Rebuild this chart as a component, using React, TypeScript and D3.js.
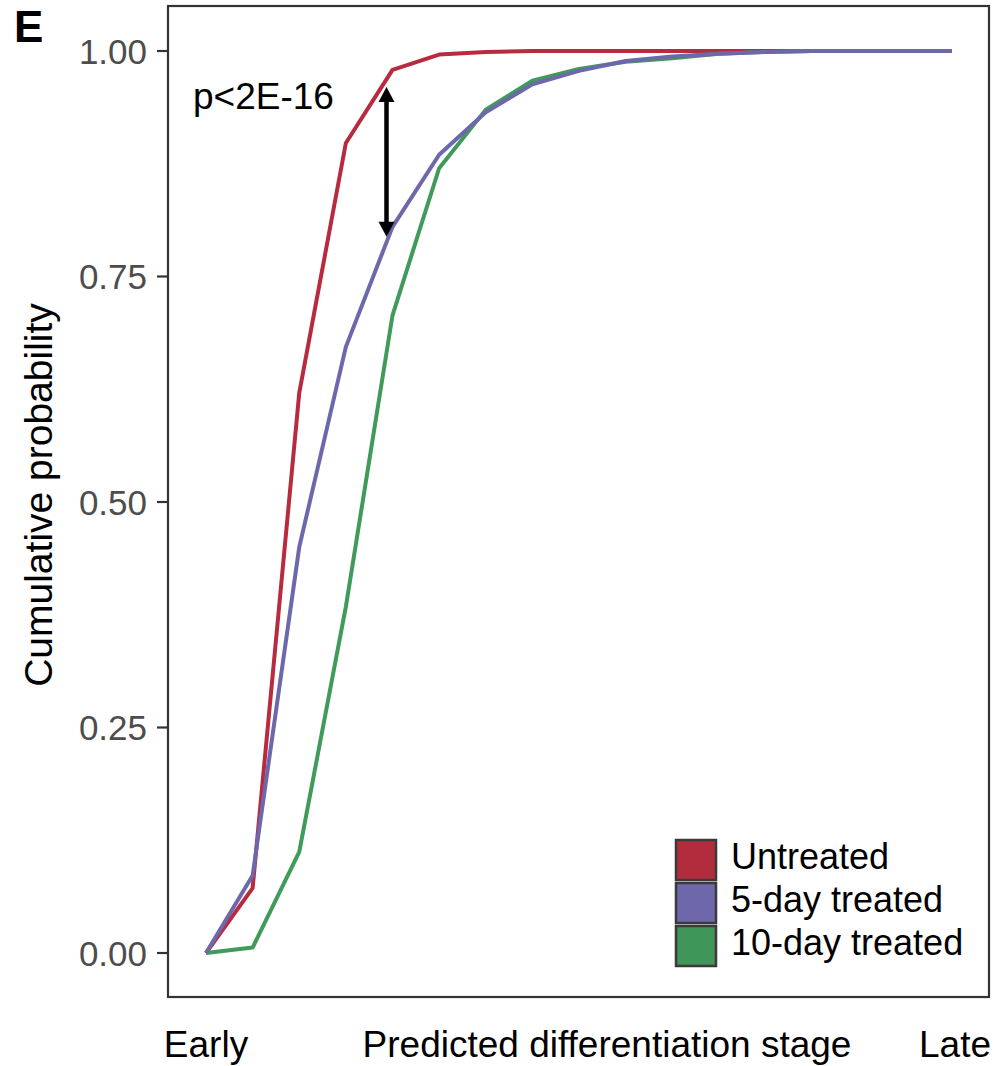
import React from "react";
import * as d3 from "d3";

const stages = [0, 1, 2, 3, 4, 5, 6, 7, 8, 9, 10, 11, 12, 13, 14, 15, 16];
const untreated = [0, 0.072, 0.621, 0.898, 0.979, 0.996, 0.999, 1, 1, 1, 1, 1, 1, 1, 1, 1, 1];
const fiveDay = [0, 0.086, 0.45, 0.672, 0.805, 0.885, 0.932, 0.963, 0.978, 0.989, 0.994, 0.997, 0.999, 1, 1, 1, 1];
const tenDay = [0, 0.006, 0.112, 0.384, 0.707, 0.87, 0.935, 0.967, 0.98, 0.988, 0.992, 0.997, 0.999, 1, 1, 1, 1];
const yTicks = [0, 0.25, 0.5, 0.75, 1];

const seriesNames = ["Untreated", "5-day treated", "10-day treated"];
const lineColors = ["#b82b3e", "#6d68ac", "#409a5a"];
const fillColors = ["#b22c3e", "#6e68ab", "#3f9658"];
const drawOrder = [0, 2, 1];
const seriesValues = [untreated, fiveDay, tenDay];

const pValueLabel = "p<2E-16";
const arrowTop = 0.96;
const arrowBottom = 0.794;

const FONT = "'Liberation Sans', Arial, Helvetica, sans-serif";

export default function App() {
  const panel = { left: 168, right: 989, top: 6, bottom: 997 };
  const x = d3.scaleLinear().domain([0, 16]).range([206, 952]);
  const y = d3.scaleLinear().domain([0, 1]).range([953, 51]);
  const line = d3
    .line<number>()
    .x((_, i) => x(stages[i]))
    .y((d) => y(d));

  const ax = x(4) - 6;
  const yTop = y(arrowTop);
  const yBot = y(arrowBottom);
  const headH = 15;
  const headW = 8;

  return (
    <svg
      width={996}
      height={1066}
      style={{ position: "absolute", left: 0, top: 0, background: "#fff" }}
      fontFamily={FONT}
    >
      <rect x={0} y={0} width={996} height={1066} fill="#fff" />
      <text x={14} y={42} fontSize={44} fontWeight="bold" fill="#000">
        E
      </text>

      {/* y axis ticks */}
      {yTicks.map((t) => (
        <g key={t}>
          <line x1={157} x2={panel.left} y1={y(t)} y2={y(t)} stroke="#333" strokeWidth={2.2} />
          <text
            x={147}
            y={y(t)}
            dy="0.36em"
            textAnchor="end"
            fontSize={35}
            fill="#4d4d4d"
          >
            {d3.format(".2f")(t)}
          </text>
        </g>
      ))}

      {/* lines */}
      {drawOrder.map((si) => (
        <path
          key={si}
          d={line(seriesValues[si]) || ""}
          fill="none"
          stroke={lineColors[si]}
          strokeWidth={4}
          strokeLinejoin="round"
        />
      ))}

      {/* panel border */}
      <rect
        x={panel.left}
        y={panel.top}
        width={panel.right - panel.left}
        height={panel.bottom - panel.top}
        fill="none"
        stroke="#333"
        strokeWidth={2.2}
      />

      {/* arrow annotation */}
      <line x1={ax} x2={ax} y1={yTop + headH - 2} y2={yBot - headH + 2} stroke="#000" strokeWidth={4.5} />
      <polygon points={`${ax},${yTop} ${ax - headW},${yTop + headH} ${ax + headW},${yTop + headH}`} fill="#000" />
      <polygon points={`${ax},${yBot} ${ax - headW},${yBot - headH} ${ax + headW},${yBot - headH}`} fill="#000" />
      <text x={193} y={109} fontSize={37} fill="#000">
        {pValueLabel}
      </text>

      {/* legend */}
      {seriesNames.map((name, i) => (
        <g key={name}>
          <rect
            x={676}
            y={840 + i * 43}
            width={40}
            height={40}
            fill={fillColors[i]}
            stroke="#3a3a3a"
            strokeWidth={2.5}
          />
          <text x={731} y={869 + i * 43} fontSize={36} fill="#000">
            {name}
          </text>
        </g>
      ))}

      {/* axis labels */}
      <text x={x(0)} y={1057} textAnchor="middle" fontSize={37} fill="#000">
        Early
      </text>
      <text x={607} y={1057} textAnchor="middle" fontSize={37} fill="#000">
        Predicted differentiation stage
      </text>
      <text x={955} y={1057} textAnchor="middle" fontSize={37} fill="#000">
        Late
      </text>
      <text
        transform={`translate(52, 495) rotate(-90)`}
        textAnchor="middle"
        fontSize={39}
        fill="#000"
      >
        Cumulative probability
      </text>
    </svg>
  );
}
